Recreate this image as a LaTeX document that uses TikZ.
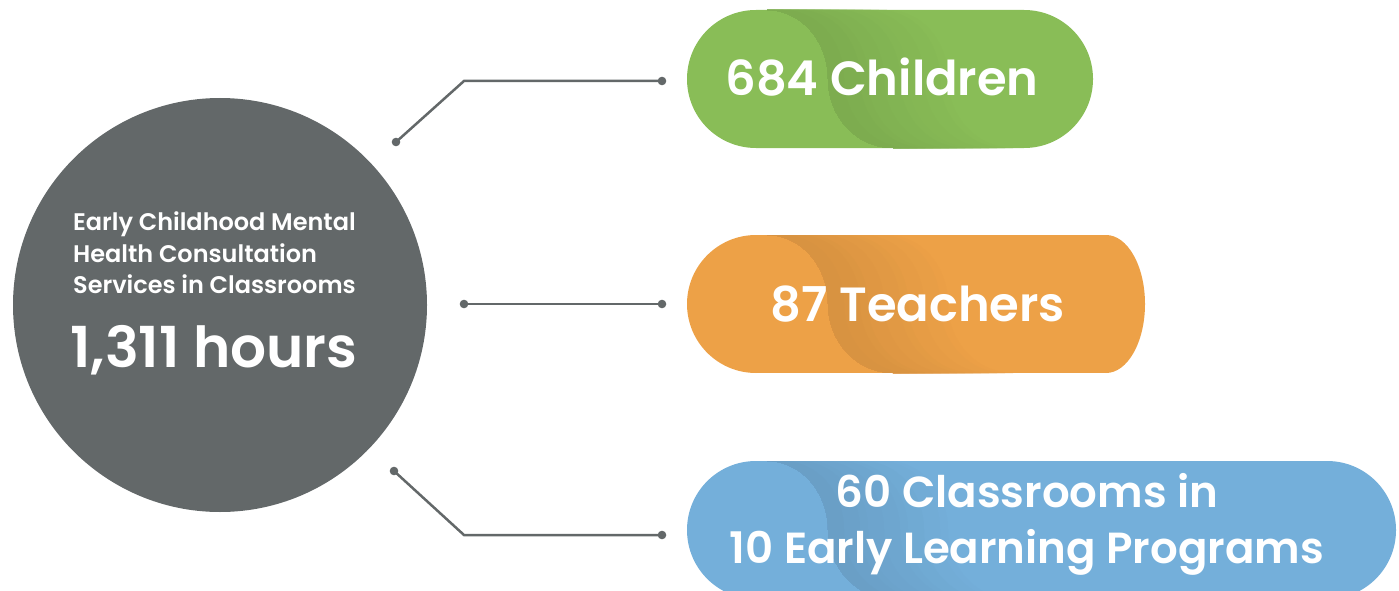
\documentclass[tikz,border=0pt]{standalone}
\usepackage{fontspec}
\setmainfont{Poppins}[BoldFont={Poppins SemiBold}]
\definecolor{cgray}{HTML}{636869}
\definecolor{cgreen}{HTML}{89BD57}
\definecolor{corange}{HTML}{EDA147}
\definecolor{cblue}{HTML}{74AFDA}
\newcommand{\pillfold}[2]{%
  \foreach \d in {120,112,...,8} {
    \pgfmathtruncatemacro{\pp}{100-(128-\d)*9/120}
    \fill[#2!\pp!black] (767,#1) .. controls (801,#1) and (828,#1+31) .. (828,#1+69)
      .. controls (828,#1+107) and (857,#1+138) .. (893,#1+138)
      -- (893+\d,#1+138) .. controls (857+\d,#1+138) and (828+\d,#1+107) .. (828+\d,#1+69)
      .. controls (828+\d,#1+31) and (801+\d,#1) .. (767+\d,#1) -- cycle;
  }}
\begin{document}
\begin{tikzpicture}[x=1pt,y=-1pt,
  wtext/.style={text=white, font=\bfseries, inner sep=0pt},
  conn/.style={draw=cgray, line width=2.5pt},
  dotc/.style={fill=cgray}]
\useasboundingbox (0,0) rectangle (1399,591);
\clip (0,0) rectangle (1399,591);
% central circle
\node[circle, fill=cgray, minimum size=414pt, inner sep=0pt] (circ) at (220,305) {};
\node[wtext, anchor=base west, font=\bfseries\fontsize{24}{28}\selectfont] (l1) at (73,230) {Early Childhood Mental};
\node[wtext, anchor=base west, font=\bfseries\fontsize{24}{28}\selectfont] (l2) at (73,262) {Health Consultation};
\node[wtext, anchor=base west, font=\bfseries\fontsize{24}{28}\selectfont] (l3) at (73,293.5) {Services in Classrooms};
\node[wtext, anchor=base west, font=\bfseries\fontsize{56.5}{60}\selectfont] (l4) at (70,367) {1,311 hours};
% green pill
\fill[cgreen, rounded corners=68.9pt] (687,10) rectangle (1093,148);
\pillfold{10}{cgreen}
\node[wtext, anchor=base, font=\bfseries\fontsize{48}{52}\selectfont] (p1) at (882,96) {684 Children};
% orange pill
\fill[corange] (756,304) circle (69);
\fill[corange] (755,235) rectangle (1107,373);
\fill[corange] (1106,304) ellipse [x radius=39, y radius=69];
\pillfold{235}{corange}
\node[wtext, anchor=base, font=\bfseries\fontsize{48}{52}\selectfont] (p2) at (918,321) {87 Teachers};
% blue pill
\fill[cblue, rounded corners=68.9pt] (687,461) rectangle (1396,599);
\pillfold{461}{cblue}
\node[wtext, anchor=base, font=\bfseries\fontsize{43.5}{46}\selectfont] (p3a) at (1027,507) {60 Classrooms in};
\node[wtext, anchor=base, font=\bfseries\fontsize{43.5}{46}\selectfont] (p3b) at (1027,563) {10 Early Learning Programs};
% connectors
\coordinate (a1) at (396,142);
\coordinate (b1) at (464,81);
\coordinate (e1) at (662,81);
\coordinate (a2) at (464,304);
\coordinate (e2) at (662,304);
\coordinate (a3) at (394,471);
\coordinate (b3) at (464,535);
\coordinate (e3) at (662,535);
\draw[conn] (a1) -- (b1) -- (e1);
\draw[conn] (a2) -- (e2);
\draw[conn] (a3) -- (b3) -- (e3);
\foreach \p in {a1,e1,a2,e2,a3,e3} \fill[dotc] (\p) circle (4.3);
\end{tikzpicture}
\end{document}
